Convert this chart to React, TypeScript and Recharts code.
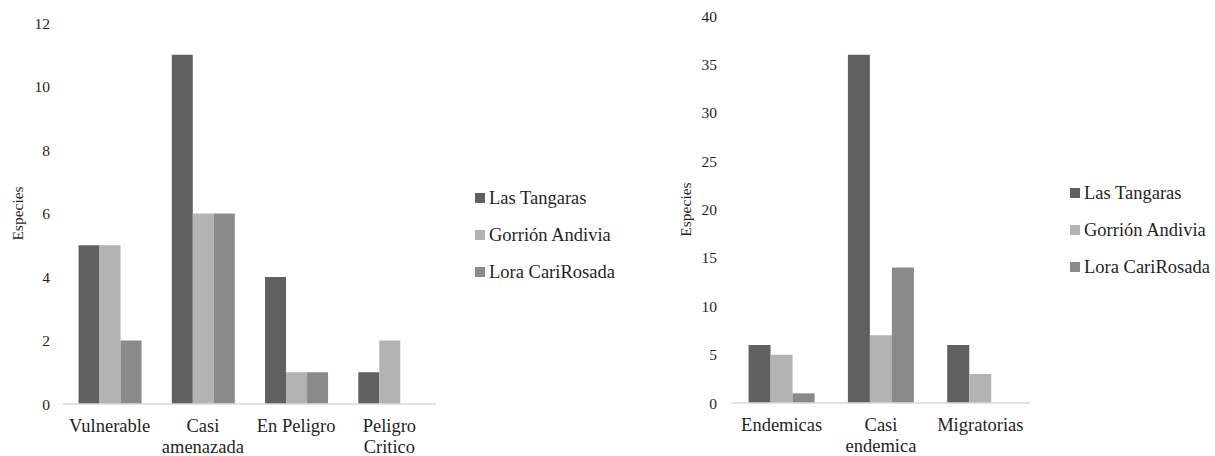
import React from "react";
import { BarChart, Bar, XAxis, YAxis, Legend, Label } from "recharts";

const seriesNames = ["Las Tangaras", "Gorrión Andivia", "Lora CariRosada"];
const seriesColors = ["#606060", "#b3b3b3", "#8a8a8a"];

const leftCategories = ["Vulnerable", "Casi\namenazada", "En Peligro", "Peligro\nCritico"];
const leftTangaras = [5, 11, 4, 1];
const leftGorrion = [5, 6, 1, 2];
const leftLora = [2, 6, 1, 0];
const leftTicks = [0, 2, 4, 6, 8, 10, 12];

const rightCategories = ["Endemicas", "Casi\nendemica", "Migratorias"];
const rightTangaras = [6, 36, 6];
const rightGorrion = [5, 7, 3];
const rightLora = [1, 14, 0];
const rightTicks = [0, 5, 10, 15, 20, 25, 30, 35, 40];

const FONT = "Liberation Serif, DejaVu Serif, Tinos, Times, serif";
const TEXT = "#1f1f1f";

const leftData = leftCategories.map((c, i) => ({
  cat: c,
  s0: leftTangaras[i],
  s1: leftGorrion[i],
  s2: leftLora[i],
}));
const rightData = rightCategories.map((c, i) => ({
  cat: c,
  s0: rightTangaras[i],
  s1: rightGorrion[i],
  s2: rightLora[i],
}));

const CatTick = (props: any) => {
  const { x, y, payload } = props;
  const lines = String(payload.value).split("\n");
  return (
    <text x={x} y={y} textAnchor="middle" style={{ fontSize: 18.5, fontFamily: FONT }} fill={TEXT}>
      {lines.map((l, i) => (
        <tspan key={i} x={x} dy={i === 0 ? 27.5 : 21}>
          {l}
        </tspan>
      ))}
    </text>
  );
};

const LegendContent = () => (
  <div style={{ fontFamily: FONT, fontSize: 18.5, color: TEXT }}>
    {seriesNames.map((n, i) => (
      <div key={n} style={{ height: 37, display: "flex", alignItems: "center", whiteSpace: "nowrap" }}>
        <span style={{ display: "inline-block", width: 10, height: 10, background: seriesColors[i], marginRight: 4 }} />
        <span>{n}</span>
      </div>
    ))}
  </div>
);

const YLabel = (bx: number, cy: number) => () => (
  <text
    x={bx}
    y={cy}
    transform={`rotate(-90, ${bx}, ${cy})`}
    textAnchor="middle"
    style={{ fontSize: 15.5, fontFamily: FONT }}
    fill={TEXT}
  >
    Especies
  </text>
);

type PanelProps = {
  data: any[];
  width: number;
  height: number;
  yWidth: number;
  marginTop: number;
  marginRight: number;
  xHeight: number;
  ticks: number[];
  max: number;
  tickGap: number;
  legendLeft: number;
  legendTop: number;
  labelX: number;
  labelY: number;
};

const Panel = (p: PanelProps) => (
  <BarChart
    width={p.width}
    height={p.height}
    data={p.data}
    margin={{ top: p.marginTop, right: p.marginRight, bottom: 0, left: 0 }}
    barCategoryGap="16.67%"
    barGap={0}
    style={{ fontFamily: FONT }}
  >
    <XAxis
      dataKey="cat"
      interval={0}
      tick={<CatTick />}
      tickLine={false}
      tickSize={0}
      tickMargin={0}
      height={p.xHeight}
      axisLine={{ stroke: "#d9d9d9", strokeWidth: 1.5 }}
    />
    <YAxis
      width={p.yWidth}
      domain={[0, p.max]}
      ticks={p.ticks}
      interval={0}
      axisLine={false}
      tickLine={false}
      tickSize={0}
      tickMargin={p.tickGap}
      tick={{ fontSize: 15.5, fontFamily: FONT, fill: TEXT, style: { fontFamily: FONT } }}
    >
      <Label content={YLabel(p.labelX, p.labelY)} />
    </YAxis>
    <Legend
      layout="vertical"
      align="center"
      verticalAlign="middle"
      content={<LegendContent />}
      wrapperStyle={{ left: p.legendLeft, top: p.legendTop, width: "auto" }}
    />
    {seriesNames.map((n, i) => (
      <Bar key={n} dataKey={`s${i}`} name={n} fill={seriesColors[i]} isAnimationActive={false} />
    ))}
  </BarChart>
);

export default function App() {
  return (
    <div style={{ position: "absolute", left: 0, top: 0, width: 1215, height: 456, background: "#fff", fontFamily: FONT }}>
      <div style={{ position: "absolute", left: 0, top: 0 }}>
        <Panel
          data={leftData}
          width={620}
          height={456}
          yWidth={63}
          marginTop={23}
          marginRight={184}
          xHeight={52}
          ticks={leftTicks}
          max={12}
          tickGap={13}
          legendLeft={475}
          legendTop={179.5}
          labelX={22.5}
          labelY={213.5}
        />
      </div>
      <div style={{ position: "absolute", left: 620, top: 0 }}>
        <Panel
          data={rightData}
          width={595}
          height={456}
          yWidth={112}
          marginTop={16}
          marginRight={185}
          xHeight={53}
          ticks={rightTicks}
          max={40}
          tickGap={15}
          legendLeft={450}
          legendTop={174.5}
          labelX={70.5}
          labelY={209.5}
        />
      </div>
    </div>
  );
}
